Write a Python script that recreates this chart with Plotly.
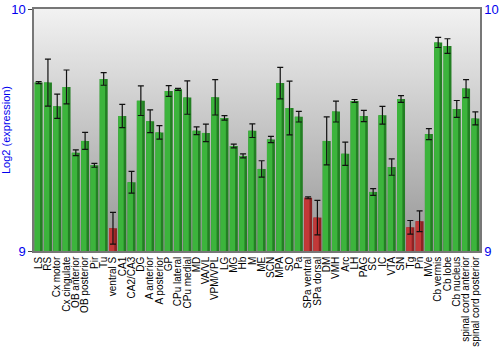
import plotly.graph_objects as go

categories = ["LS", "RS", "Cx motor", "Cx cingulate", "OB anterior", "OB posterior", "Pir", "Tu",
              "ventral S", "CA1", "CA2/CA3", "DG", "A anterior", "A posterior", "GP", "CPu lateral",
              "CPu medial", "MD", "VA/VL", "VPM/VPL", "LG", "MG", "Hb", "M", "ME", "SCN", "MPA", "SO",
              "Pa", "SPa ventral", "SPa dorsal", "DM", "VMH", "Arc", "LH", "PAG", "SC", "IC", "VTA",
              "SN", "Tg", "Pn", "MVe", "Cb vermis", "Cb lobe", "Cb nucleus", "spinal cord anterior",
              "spinal cord posterior"]

values = [9.696, 9.696, 9.598, 9.678, 9.406, 9.455, 9.354, 9.711,
          9.094, 9.558, 9.284, 9.621, 9.536, 9.490, 9.661, 9.668,
          9.634, 9.497, 9.488, 9.635, 9.550, 9.434, 9.393, 9.497, 9.339, 9.461, 9.694, 9.591,
          9.555, 9.220, 9.138, 9.455, 9.576, 9.402, 9.620, 9.558, 9.244, 9.561, 9.347,
          9.628, 9.098, 9.123, 9.483, 9.862, 9.847, 9.587, 9.671, 9.548]

errors = [0.004, 0.097, 0.050, 0.070, 0.012, 0.035, 0.008, 0.026,
          0.066, 0.048, 0.045, 0.061, 0.047, 0.028, 0.022, 0.004,
          0.069, 0.016, 0.036, 0.073, 0.009, 0.008, 0.008, 0.028, 0.034, 0.013, 0.065, 0.111,
          0.022, 0.004, 0.071, 0.099, 0.043, 0.048, 0.006, 0.023, 0.014, 0.037, 0.034,
          0.014, 0.028, 0.043, 0.023, 0.021, 0.030, 0.035, 0.037, 0.027]

low_flag = [c in ("ventral S", "SPa ventral", "SPa dorsal", "Tg", "Pn") for c in categories]

y_range = [9, 10]
y_ticks = [9, 10]

n = len(categories)
xpos = list(range(n))
dark_cols = ["#8e2323" if f else "#237f23" for f in low_flag]
light_cols = ["#c23838" if f else "#3cb43c" for f in low_flag]
base = [y_range[0]] * n
heights = [v - y_range[0] for v in values]

fig = go.Figure()

# background gradient (plot-area panel)
fig.add_trace(go.Scatter(
    x=[-0.5, n - 0.5, n - 0.5, -0.5, -0.5], y=[y_range[0], y_range[0], y_range[1], y_range[1], y_range[0]],
    xaxis="x", yaxis="y", fill="toself", mode="none", hoverinfo="skip",
    fillgradient=dict(type="vertical", colorscale=[[0, "#969696"], [1, "#f2f2f2"]]),
    showlegend=False))

fig.add_trace(go.Bar(x=xpos, y=heights, base=base, width=0.86,
                     marker=dict(color=dark_cols, line=dict(width=0)),
                     yaxis="y2", showlegend=False, hoverinfo="skip"))
fig.add_trace(go.Bar(x=xpos, y=heights, base=base, width=0.58, offset=-0.43,
                     marker=dict(color=light_cols, line=dict(width=0)),
                     yaxis="y2", showlegend=False))
fig.add_trace(go.Scatter(x=xpos, y=values, mode="markers", marker=dict(size=0.1, color="rgba(0,0,0,0)"),
                         error_y=dict(type="data", array=errors, visible=True, color="#111111",
                                      thickness=1.2, width=3),
                         yaxis="y2", showlegend=False, hoverinfo="skip"))

fig.update_layout(
    width=500, height=350,
    margin=dict(l=34, r=20, t=9, b=99),
    paper_bgcolor="white", plot_bgcolor="white",
    barmode="overlay",
    font=dict(family="Liberation Sans, Arial, sans-serif"),
    xaxis=dict(range=[-0.5, n - 0.5], tickmode="array", tickvals=xpos, ticktext=categories,
               tickangle=-90, ticks="", showgrid=False, zeroline=False, automargin=False,
               tickfont=dict(size=10, color="black"), showline=True, linecolor="#777777",
               mirror=True, linewidth=1.5),
    yaxis=dict(range=y_range, tickvals=y_ticks, ticktext=[str(t) for t in y_ticks], automargin=False,
               showgrid=False, zeroline=False, ticks="outside", ticklen=4, tickcolor="#444",
               tickfont=dict(size=13, color="#0000ee"), showline=True, linecolor="#777777",
               linewidth=1.5,
               title=dict(text="Log2 (expression)", font=dict(size=11, color="#0000ee"), standoff=8)),
    yaxis2=dict(range=y_range, tickvals=y_ticks, ticktext=[str(t) for t in y_ticks], automargin=False,
                overlaying="y", side="right", showgrid=False, zeroline=False, ticks="",
                tickfont=dict(size=13, color="#0000ee"), showline=True, linecolor="#777777",
                linewidth=1.5),
)

fig.write_html("out.html")
